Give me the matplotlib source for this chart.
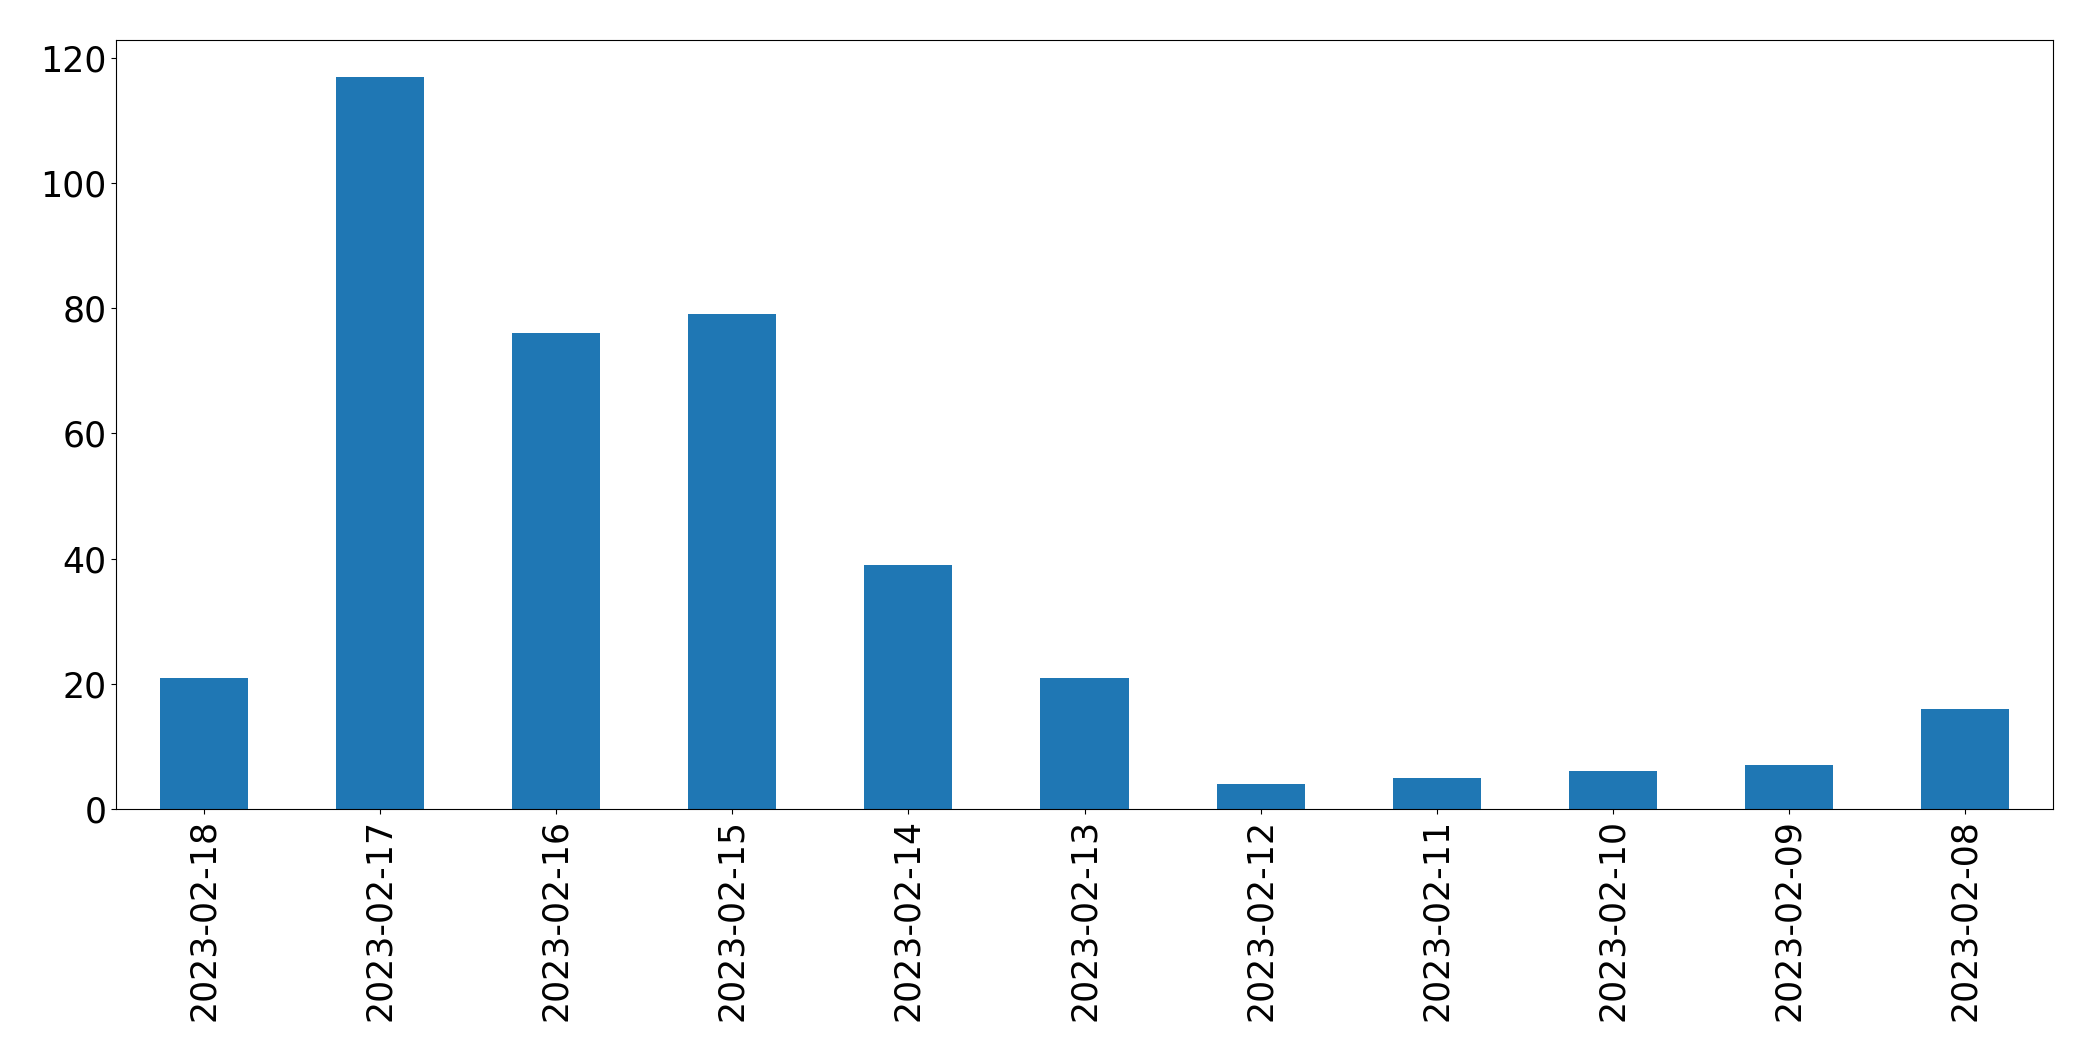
import matplotlib
matplotlib.use("Agg")
import matplotlib.pyplot as plt
import pandas as pd

dates = ["2023-02-18", "2023-02-17", "2023-02-16", "2023-02-15", "2023-02-14",
         "2023-02-13", "2023-02-12", "2023-02-11", "2023-02-10", "2023-02-09",
         "2023-02-08"]
counts = [21, 117, 76, 79, 39, 21, 4, 5, 6, 7, 16]

s = pd.Series(counts, index=dates)

fig = plt.figure(figsize=(20.93, 10.61), dpi=100)
ax = fig.add_axes([116 / 2093, 1 - 809 / 1061, (2053 - 116) / 2093, (809 - 40) / 1061])
s.plot(kind="bar", ax=ax, color="#1f77b4")
ax.tick_params(labelsize=25)
fig.savefig("out.png", dpi=100)
